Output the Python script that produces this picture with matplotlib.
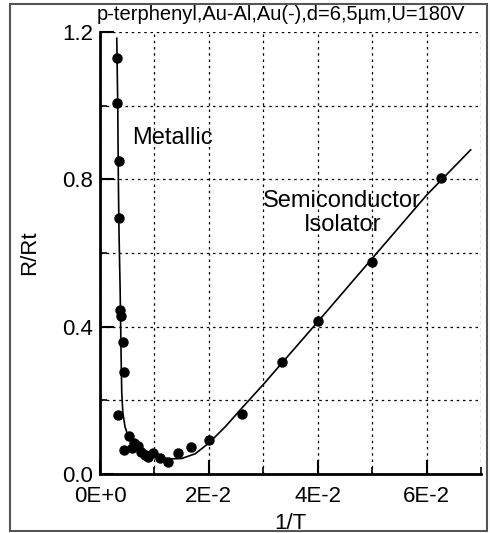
import matplotlib
matplotlib.use("Agg")
import matplotlib.pyplot as plt
from matplotlib.patches import Rectangle
from matplotlib.ticker import FixedLocator, FixedFormatter

plt.rcParams['font.family'] = ['Liberation Sans', 'DejaVu Sans']

# measured points (1/T, R/Rt)
inv_t = [0.0032, 0.0032, 0.0035, 0.0034, 0.0036, 0.0039, 0.0042, 0.0045,
         0.0033, 0.0045, 0.0054, 0.0058, 0.0063, 0.0069, 0.0075, 0.0083,
         0.0088, 0.0098, 0.0110, 0.0125, 0.0143, 0.0168, 0.0201,
         0.0261, 0.0335, 0.0401, 0.0500, 0.0626]
r_rt = [1.130, 1.006, 0.850, 0.696, 0.445, 0.429, 0.358, 0.278,
        0.160, 0.065, 0.104, 0.070, 0.083, 0.077, 0.060, 0.052,
        0.047, 0.056, 0.043, 0.033, 0.058, 0.072, 0.092,
        0.163, 0.305, 0.415, 0.576, 0.803]

# fitted curve
fit_x = [0.00308, 0.00326, 0.00337, 0.0035, 0.0037, 0.0039, 0.0040, 0.0042,
         0.0046, 0.0052, 0.0060, 0.0071, 0.0085, 0.0100, 0.0125, 0.0150,
         0.0175, 0.0200, 0.0230, 0.0260, 0.0300, 0.0400, 0.0500, 0.0600, 0.0681]
fit_y = [1.183, 1.000, 0.800, 0.650, 0.500, 0.300, 0.220, 0.165,
         0.128, 0.101, 0.087, 0.074, 0.062, 0.053, 0.041, 0.042,
         0.055, 0.084, 0.128, 0.178, 0.243, 0.413, 0.585, 0.757, 0.880]

x_major = [0.0, 0.02, 0.04, 0.06]
x_labels = ['0E+0', '2E-2', '4E-2', '6E-2']
x_minor = [0.01, 0.03, 0.05, 0.07]
y_major = [0.0, 0.4, 0.8, 1.2]
y_labels = ['0.0', '0.4', '0.8', '1.2']
y_minor = [0.2, 0.6, 1.0]

W, H = 490, 533
fig = plt.figure(figsize=(W / 100, H / 100), dpi=100)
ax = fig.add_axes([100 / W, 1 - 474 / H, 381 / W, 442 / H])

ax.plot(fit_x, fit_y, color='black', lw=1.2, zorder=3)
ax.plot(inv_t, r_rt, 'o', color='black', ms=6.5, zorder=4)

ax.set_xlim(0, 0.07)
ax.set_ylim(0, 1.2)

ax.xaxis.set_major_locator(FixedLocator(x_major))
ax.xaxis.set_major_formatter(FixedFormatter(x_labels))
ax.xaxis.set_minor_locator(FixedLocator(x_minor))
ax.yaxis.set_major_locator(FixedLocator(y_major))
ax.yaxis.set_major_formatter(FixedFormatter(y_labels))
ax.yaxis.set_minor_locator(FixedLocator(y_minor))

ax.tick_params(which='major', direction='in', length=10, width=1.5,
               labelsize=16)
ax.tick_params(axis='x', which='major', pad=9)
ax.tick_params(axis='y', which='major', pad=5)
ax.tick_params(which='minor', direction='in', length=5, width=1.2)
ax.grid(True, which='both', color='black', linestyle=(0, (2, 3)), lw=0.9)

for s in ('top', 'right'):
    ax.spines[s].set_visible(False)
for s in ('left', 'bottom'):
    ax.spines[s].set_linewidth(2)

ax.set_xlabel('1/T', fontsize=16, labelpad=4)
ax.set_ylabel('R/Rt', fontsize=16, labelpad=16)

ax.text(0.0059, 0.912, 'Metallic', fontsize=17, va='center', ha='left')
ax.text(0.0445, 0.709, 'Semiconductor\nIsolator', fontsize=17,
        va='center', ha='center', linespacing=1.1)

fig.text(97 / W, 1 - 15 / H, 'p-terphenyl,Au-Al,Au(-),d=6,5\u00b5m,U=180V',
         fontsize=14.5, ha='left', va='center')

fig.patches.append(Rectangle((10 / W, 2 / H), 477 / W, 527 / H,
                             transform=fig.transFigure, fill=False,
                             edgecolor='#555555', lw=1.5))

fig.savefig('out.png', dpi=100)
